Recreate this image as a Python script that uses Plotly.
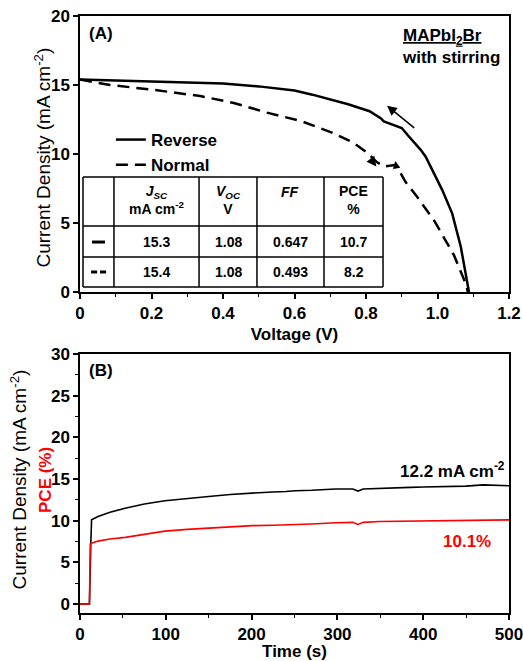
import plotly.graph_objects as go

# ---------------- data ----------------
V_rev = [0, 0.1, 0.2, 0.3, 0.4, 0.5, 0.6, 0.65, 0.71, 0.75, 0.81, 0.841, 0.85, 0.892, 0.9, 0.92, 0.953, 0.967, 0.99, 1.013, 1.041, 1.065, 1.088]
J_rev = [15.39, 15.33, 15.27, 15.2, 15.1, 14.9, 14.6, 14.3, 13.9, 13.6, 13.1, 12.6, 12.36, 12.0, 11.88, 11.27, 10.3, 9.8, 8.6, 7.4, 5.7, 3.3, 0]

V_nor = [0, 0.084, 0.2, 0.336, 0.43, 0.523, 0.617, 0.71, 0.766, 0.803, 0.831, 0.85, 0.88, 0.897, 0.91, 0.943, 0.99, 1.046, 1.079, 1.085]
J_nor = [15.4, 15.0, 14.67, 14.2, 13.7, 13.0, 12.4, 11.5, 10.8, 10.1, 9.4, 9.1, 9.2, 8.6, 8.0, 6.9, 5.2, 2.67, 0.6, 0]

t_cur = [0, 11, 12.5, 13.5, 21, 35, 52.6, 75, 99, 125, 150, 175, 201, 225, 240, 251, 270, 298, 318, 324, 330, 349, 385, 400, 450, 470, 500]
J_cur = [0, 0, 7, 10.1, 10.5, 11.0, 11.5, 12.0, 12.4, 12.7, 12.9, 13.15, 13.35, 13.45, 13.5, 13.6, 13.65, 13.8, 13.8, 13.55, 13.8, 13.9, 14.0, 14.05, 14.15, 14.3, 14.2]

t_pce = [0, 11, 12, 13.5, 21, 35, 52.6, 75, 99, 125, 150, 175, 201, 225, 251, 270, 298, 318, 324, 330, 349, 385, 400, 450, 500]
PCE = [0, 0, 7.2, 7.3, 7.55, 7.8, 8.0, 8.4, 8.75, 8.95, 9.1, 9.25, 9.4, 9.45, 9.5, 9.6, 9.75, 9.8, 9.55, 9.8, 9.9, 9.95, 10.0, 10.05, 10.1]

table_headers = ["", "<i>J</i><sub><i>SC</i></sub><br>mA cm<sup>-2</sup>", "<i>V</i><sub><i>OC</i></sub><br>V", "<i>FF</i>", "PCE<br>%"]
table_rows = [["15.3", "1.08", "0.647", "10.7"], ["15.4", "1.08", "0.493", "8.2"]]

xA_tickvals = [0, 0.2, 0.4, 0.6, 0.8, 1.0, 1.2]
xA_ticktext = ["0", "0.2", "0.4", "0.6", "0.8", "1.0", "1.2"]
yA_tickvals = [0, 5, 10, 15, 20]
xB_tickvals = [0, 100, 200, 300, 400, 500]
yB_tickvals = [0, 5, 10, 15, 20, 25, 30]

FONT = "Liberation Sans, Arial, sans-serif"
RED = "#ff0000"

fig = go.Figure()
fig.add_trace(go.Scatter(x=V_rev, y=J_rev, mode="lines", name="Reverse",
                         line=dict(color="black", width=2.5), xaxis="x", yaxis="y"))
fig.add_trace(go.Scatter(x=V_nor, y=J_nor, mode="lines", name="Normal",
                         line=dict(color="black", width=2.5, dash="12px,7px"), xaxis="x", yaxis="y"))
fig.add_trace(go.Scatter(x=t_cur, y=J_cur, mode="lines", name="Current density",
                         line=dict(color="black", width=1.6), xaxis="x2", yaxis="y2", showlegend=False))
fig.add_trace(go.Scatter(x=t_pce, y=PCE, mode="lines", name="PCE",
                         line=dict(color=RED, width=1.6), xaxis="x2", yaxis="y2", showlegend=False))

axis_common = dict(showline=True, linecolor="black", linewidth=1.5, mirror=True,
                   ticks="outside", tickcolor="black", tickwidth=1.5, ticklen=5,
                   showgrid=False, zeroline=False, automargin=False, ticklabeloverflow="allow",
                   tickfont=dict(family=FONT, size=17, color="black", weight="bold"))

shapes = []
annotations = []

# ---- table in panel A (data coordinates) ----
col_x = [0.0084, 0.095, 0.333, 0.495, 0.6825, 0.8476]
row_y = [8.33, 4.78, 2.54, 0.36]
for cx in col_x:
    shapes.append(dict(type="line", xref="x", yref="y", x0=cx, x1=cx, y0=row_y[-1], y1=row_y[0],
                       line=dict(color="black", width=1.5)))
for ry in row_y:
    shapes.append(dict(type="line", xref="x", yref="y", x0=col_x[0], x1=col_x[-1], y0=ry, y1=ry,
                       line=dict(color="black", width=1.5)))
centers = [(col_x[i] + col_x[i + 1]) / 2 for i in range(len(col_x) - 1)]
tfont = dict(family=FONT, size=14, color="black", weight="bold")
for i, h in enumerate(table_headers):
    if not h:
        continue
    yy = 6.67 if "<br>" in h else 7.25
    annotations.append(dict(x=centers[i], y=yy, xref="x", yref="y", text=h, showarrow=False,
                            font=tfont, xanchor="center", yanchor="middle"))
row_centers = [3.62, 1.45]
for r, row in enumerate(table_rows):
    for c, v in enumerate(row):
        annotations.append(dict(x=centers[c + 1], y=row_centers[r], xref="x", yref="y", text=v,
                                showarrow=False, font=tfont, xanchor="center", yanchor="middle"))
# line-style symbols in first column
shapes.append(dict(type="line", xref="x", yref="y", x0=0.0336, x1=0.0699, y0=row_centers[0], y1=row_centers[0],
                   line=dict(color="black", width=3)))
shapes.append(dict(type="line", xref="x", yref="y", x0=0.031, x1=0.048, y0=row_centers[1], y1=row_centers[1],
                   line=dict(color="black", width=3)))
shapes.append(dict(type="line", xref="x", yref="y", x0=0.056, x1=0.073, y0=row_centers[1], y1=row_centers[1],
                   line=dict(color="black", width=3)))

# ---- arrows in panel A ----
annotations.append(dict(x=0.859, y=13.5, ax=0.939, ay=11.8, xref="x", yref="y", axref="x", ayref="y",
                        text="", showarrow=True, arrowhead=2, arrowsize=1.3, arrowwidth=1.5, arrowcolor="black"))
annotations.append(dict(x=0.829, y=9.1, ax=0.814, ay=9.6, xref="x", yref="y", axref="x", ayref="y",
                        text="", showarrow=True, arrowhead=2, arrowsize=1.3, arrowwidth=1.5, arrowcolor="black"))
annotations.append(dict(x=0.882, y=9.5, ax=0.884, ay=9.2, xref="x", yref="y", axref="x", ayref="y",
                        text="", showarrow=True, arrowhead=2, arrowsize=1.0, arrowwidth=1.5, arrowcolor="black"))

lab = dict(family=FONT, size=17, color="black", weight="bold")
annotations.append(dict(x=0.0163, y=0.9715, xref="paper", yref="paper", text="(A)", showarrow=False,
                        font=lab, xanchor="left", yanchor="middle"))
annotations.append(dict(x=0.0163, y=0.407, xref="paper", yref="paper", text="(B)", showarrow=False,
                        font=lab, xanchor="left", yanchor="middle"))
annotations.append(dict(x=0.746, y=0.9866, xref="paper", yref="paper",
                        text="<u>MAPbI<sub>2</sub>Br</u><br>with stirring", showarrow=False,
                        font=lab, xanchor="left", yanchor="top", align="left"))
annotations.append(dict(x=497.7, y=16.09, xref="x2", yref="y2", text="12.2 mA cm<sup>-2</sup>",
                        showarrow=False, font=lab, xanchor="right", yanchor="middle"))
annotations.append(dict(x=451, y=7.56, xref="x2", yref="y2", text="10.1%", showarrow=False,
                        font=dict(family=FONT, size=17, color=RED, weight="bold"),
                        xanchor="center", yanchor="middle"))

# ---- y-axis titles (placed as rotated text) ----
ytitle_font = dict(family=FONT, size=19, color="black")
annotations.append(dict(x=-0.0862, y=0.763, xref="paper", yref="paper",
                        text="Current Density (mA cm<sup>-2</sup>)", textangle=-90, showarrow=False,
                        font=ytitle_font, xanchor="center", yanchor="middle"))
annotations.append(dict(x=-0.1434, y=0.2245, xref="paper", yref="paper",
                        text="Current Density (mA cm<sup>-2</sup>)", textangle=-90, showarrow=False,
                        font=ytitle_font, xanchor="center", yanchor="middle"))
annotations.append(dict(x=-0.0793, y=0.2228, xref="paper", yref="paper",
                        text="PCE (%)", textangle=-90, showarrow=False,
                        font=dict(family=FONT, size=17, color=RED, weight="bold"),
                        xanchor="center", yanchor="middle"))

fig.update_layout(
    width=523, height=661,
    margin=dict(l=80, r=14, t=16, b=48),
    paper_bgcolor="white", plot_bgcolor="white",
    font=dict(family=FONT, color="black"),
    xaxis=dict(axis_common, domain=[0, 1], anchor="y", range=[0, 1.2],
               tickvals=xA_tickvals, ticktext=xA_ticktext,
               minor=dict(ticks="outside", dtick=0.1, ticklen=3, tickcolor="black", tickwidth=1.2),
               title=dict(text="Voltage (V)", font=dict(family=FONT, size=17, color="black", weight="bold"),
                          standoff=6)),
    yaxis=dict(axis_common, domain=[0.5377, 1], anchor="x", range=[0, 20], tickvals=yA_tickvals),
    xaxis2=dict(axis_common, domain=[0, 1], anchor="y2", range=[0, 500], tickvals=xB_tickvals,
                minor=dict(ticks="outside", dtick=50, ticklen=3, tickcolor="black", tickwidth=1.2),
                title=dict(text="Time (s)", font=dict(family=FONT, size=17, color="black", weight="bold"),
                           standoff=2)),
    yaxis2=dict(axis_common, domain=[0, 0.4338], anchor="x2", range=[-1.08, 30], tickvals=yB_tickvals,
                minor=dict(ticks="outside", dtick=2.5, tick0=0, ticklen=3, tickcolor="black", tickwidth=1.2)),
    legend=dict(x=0.072, y=0.8224, xanchor="left", yanchor="top", bgcolor="rgba(0,0,0,0)",
                font=dict(family=FONT, size=17, color="black", weight="bold"), tracegroupgap=0),
    shapes=shapes,
    annotations=annotations,
)

fig.write_html("out.html")
